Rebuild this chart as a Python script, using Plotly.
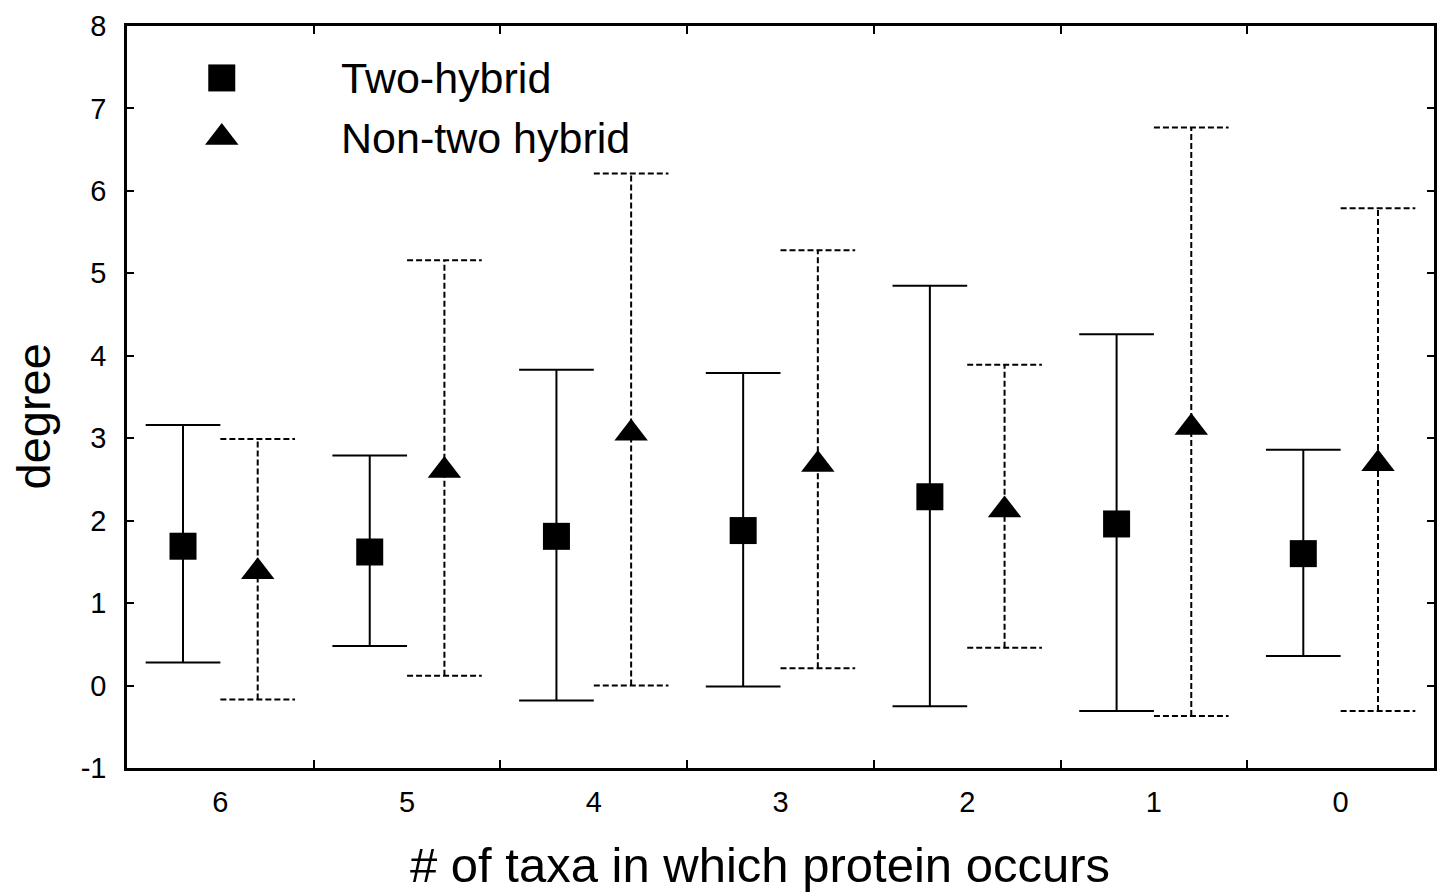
import plotly.graph_objects as go

categories = ["6", "5", "4", "3", "2", "1", "0"]

two_mean = [1.69, 1.62, 1.81, 1.88, 2.29, 1.96, 1.60]
two_hi = [3.16, 2.79, 3.83, 3.79, 4.85, 4.26, 2.86]
two_lo = [0.28, 0.48, -0.18, -0.01, -0.25, -0.31, 0.36]

non_mean = [1.38, 2.61, 3.06, 2.68, 2.13, 3.13, 2.69]
non_hi = [2.99, 5.16, 6.21, 5.28, 3.89, 6.77, 5.79]
non_lo = [-0.17, 0.12, 0.00, 0.21, 0.46, -0.37, -0.31]

y_ticks = [-1, 0, 1, 2, 3, 4, 5, 6, 7, 8]
y_ticktext = ["-1", "0", "1", "2", "3", "4", "5", "6", "7", "8"]

series_names = ["Two-hybrid", "Non-two hybrid"]

OFFSET = 0.2
CAP = 0.2
FONT = "Liberation Sans, Arial, sans-serif"

idx = list(range(len(categories)))


def bar_path(xs, lo, hi):
    px, py = [], []
    for x, l, h in zip(xs, lo, hi):
        px += [x, x, None, x - CAP, x + CAP, None, x - CAP, x + CAP, None]
        py += [l, h, None, h, h, None, l, l, None]
    return px, py


x_two = [i - OFFSET for i in idx]
x_non = [i + OFFSET for i in idx]

fig = go.Figure()

ex, ey = bar_path(x_two, two_lo, two_hi)
fig.add_trace(go.Scatter(x=ex, y=ey, mode="lines", line=dict(color="black", width=2),
                         showlegend=False, hoverinfo="skip"))
ex, ey = bar_path(x_non, non_lo, non_hi)
fig.add_trace(go.Scatter(x=ex, y=ey, mode="lines",
                         line=dict(color="black", width=2, dash="6px,3px"),
                         showlegend=False, hoverinfo="skip"))

fig.add_trace(go.Scatter(x=x_two, y=two_mean, mode="markers", name=series_names[0],
                         marker=dict(symbol="square", size=27, color="black"),
                         showlegend=False))
fig.add_trace(go.Scatter(x=x_non, y=non_mean, mode="markers", name=series_names[1],
                         marker=dict(symbol="triangle-up", size=29, color="black"),
                         showlegend=False))

# in-plot legend (overlay axes in plot-area fractions)
leg_y = [0.930, 0.8497]
fig.add_trace(go.Scatter(x=[0.0725], y=[leg_y[0]], mode="markers", xaxis="x2", yaxis="y2",
                         marker=dict(symbol="square", size=27, color="black"),
                         showlegend=False, hoverinfo="skip"))
fig.add_trace(go.Scatter(x=[0.0725], y=[leg_y[1]], mode="markers", xaxis="x2", yaxis="y2",
                         marker=dict(symbol="triangle-up", size=29, color="black"),
                         showlegend=False, hoverinfo="skip"))
for name, yy in zip(series_names, leg_y):
    fig.add_annotation(x=0.1625, y=yy, xref="x2", yref="y2", text=name, showarrow=False,
                       xanchor="left", yanchor="middle",
                       font=dict(family=FONT, size=43, color="black"))

# axis titles
fig.add_annotation(x=0.484, y=-0.131, xref="paper", yref="paper",
                   text="# of taxa in which protein occurs", showarrow=False,
                   xanchor="center", yanchor="middle",
                   font=dict(family=FONT, size=49, color="black"))
fig.add_annotation(x=-0.0718, y=0.474, xref="paper", yref="paper",
                   text="degree", showarrow=False, textangle=-90,
                   xanchor="center", yanchor="middle",
                   font=dict(family=FONT, size=47, color="black"))

fig.update_layout(
    width=1447, height=896,
    margin=dict(l=127, r=10, t=23, b=128),
    paper_bgcolor="white", plot_bgcolor="white",
    font=dict(family=FONT, color="black"),
    showlegend=False,
    xaxis=dict(
        range=[-0.5, 6.5], tickmode="array", tickvals=idx, ticktext=categories,
        ticks="", showgrid=False, zeroline=False,
        showline=True, linecolor="black", linewidth=2.5, mirror="ticks",
        tickfont=dict(family=FONT, size=29, color="black"),
        ticklabelstandoff=6,
        minor=dict(tickmode="array", tickvals=[i + 0.5 for i in idx[:-1]],
                   ticks="inside", ticklen=8, tickwidth=2, tickcolor="black", showgrid=False),
    ),
    yaxis=dict(
        range=[-1, 8], tickmode="array", tickvals=y_ticks, ticktext=y_ticktext,
        ticks="inside", ticklen=7, tickwidth=2, tickcolor="black",
        showgrid=False, zeroline=False,
        showline=True, linecolor="black", linewidth=2.5, mirror="ticks",
        tickfont=dict(family=FONT, size=29, color="black"),
        ticklabelstandoff=12,
    ),
    xaxis2=dict(overlaying="x", range=[0, 1], visible=False, fixedrange=True),
    yaxis2=dict(overlaying="y", range=[0, 1], visible=False, fixedrange=True),
)

fig.write_html("out.html")
